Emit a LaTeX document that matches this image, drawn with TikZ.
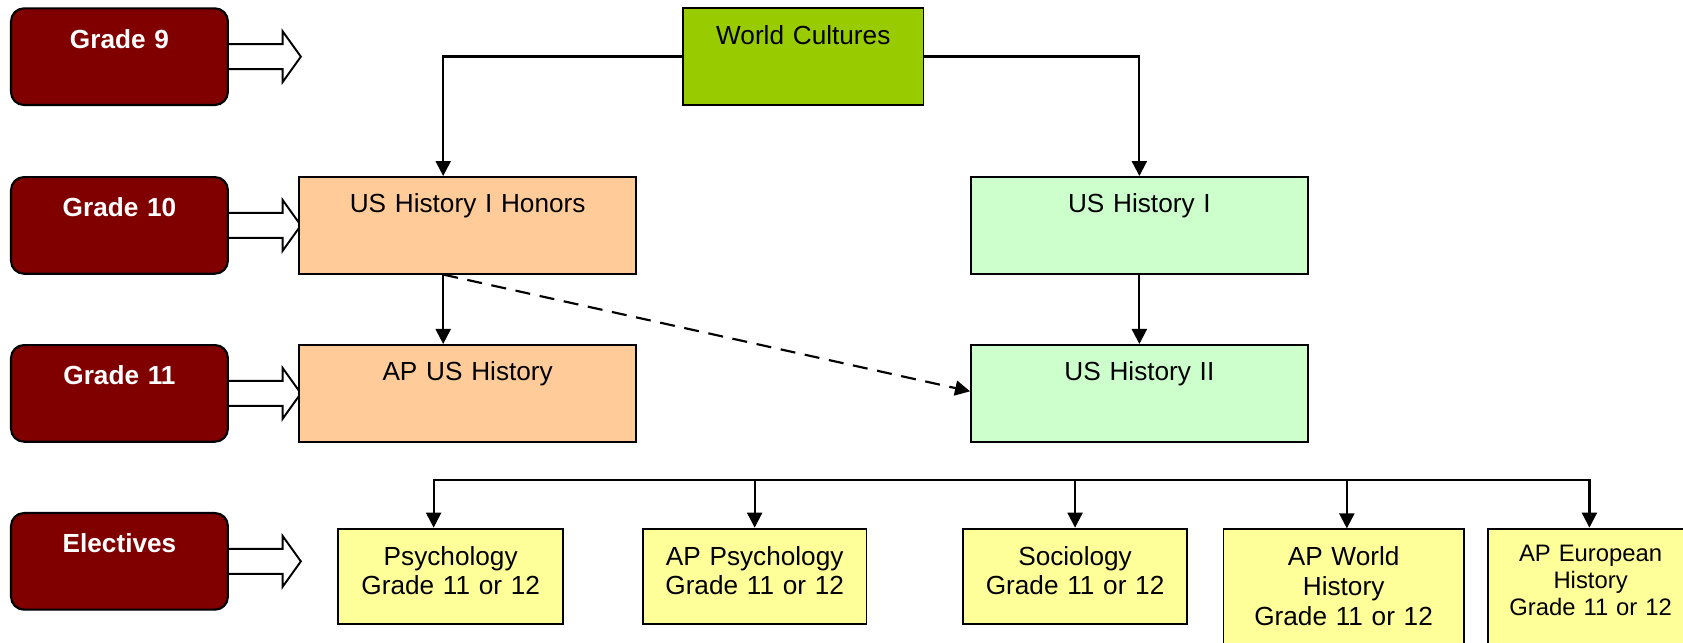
\documentclass[tikz,border=0pt]{standalone}
\usepackage{fontspec}
\setmainfont{Liberation Sans}
\usetikzlibrary{arrows.meta,calc,backgrounds}
\definecolor{gradered}{HTML}{800000}
\definecolor{wcgreen}{HTML}{99CC00}
\definecolor{honor}{HTML}{FFCC99}
\definecolor{usgreen}{HTML}{CCFFCC}
\definecolor{elect}{HTML}{FFFF99}
\begin{document}
\begin{tikzpicture}[x=0.5pt,y=-0.5pt,
  gradebox/.style={draw=black, line width=1pt, fill=gradered, rounded corners=6pt,
    inner sep=0pt, anchor=north west, text width=101pt, align=center, text=white,
    font=\fontsize{12.2pt}{14pt}\selectfont\bfseries, text height=18.5pt, text depth=26.5pt},
  course/.style={draw=black, line width=0.9pt, inner sep=0pt, anchor=north west,
    align=center, font=\fontsize{12.2pt}{13.2pt}\selectfont},
  toprow/.style={course, text height=16.7pt, text depth=28.3pt},
  hollow/.style={draw=black, line width=0.9pt, fill=white, line join=miter},
  conn/.style={draw=black, line width=1pt},
  tip/.tip={Triangle[length=7pt,width=7pt]},
  arr/.style={conn, -tip},
]
\useasboundingbox (0,0) rectangle (1568,599);
\clip (0,0) rectangle (1568,599);

% grade labels
\node[gradebox] (g9)  at (9.3,6.8)   {Grade 9};
\node[gradebox] (g10) at (9.3,164)   {Grade 10};
\node[gradebox] (g11) at (9.3,320.5) {Grade 11};
\node[gradebox] (gel) at (9.3,477)   {Electives};

% hollow block arrows
\begin{scope}[on background layer]
\foreach \g in {g9,g10,g11,gel}{
  \draw[hollow] (\g.east) ++(0,-11.65) -- ++(50,0) -- ++(0,-12.05) -- ++(17,23.7)
    -- ++(-17,23.7) -- ++(0,-12.05) -- ++(-50,0);
}
\end{scope}

% course boxes
\node[toprow, fill=wcgreen, text width=112pt]  (wc)   at (635.5,6.8)  {World Cultures};
\node[toprow, fill=honor,   text width=156.8pt] (hon)  at (278,164)    {US History I Honors};
\node[toprow, fill=usgreen, text width=156.8pt] (us1)  at (903.8,164)  {US History I};
\node[toprow, fill=honor,   text width=156.8pt] (apus) at (278,320.5)  {AP US History};
\node[toprow, fill=usgreen, text width=156.8pt] (us2)  at (903.8,320.5) {US History II};

% electives
\node[course, fill=elect, text width=105pt, text height=17.4pt, text depth=27.2pt]
  (psy) at (314,491.6) {Psychology\\Grade 11 or 12};
\node[course, fill=elect, text width=104.2pt, text height=17.4pt, text depth=27.2pt]
  (apsy) at (598,491.6) {AP Psychology\\Grade 11 or 12};
\node[course, fill=elect, text width=104.4pt, text height=17.4pt, text depth=27.2pt]
  (soc) at (896.3,491.6) {Sociology\\Grade 11 or 12};
\node[course, fill=elect, text width=111.9pt, text height=16.6pt, text depth=48.4pt,
  font=\fontsize{12.2pt}{14pt}\selectfont]
  (apw) at (1139,492.3) {AP World\\History\\Grade 11 or 12};
\node[course, fill=elect, text width=96pt, text height=15.4pt, text depth=50pt,
  font=\fontsize{11.1pt}{12.6pt}\selectfont]
  (ape) at (1385,491.6) {AP European\\History\\Grade 11 or 12};

% connectors
\draw[arr] (wc.west) -| ([xshift=-11.4pt]hon.north);
\draw[arr] (wc.east) -| (us1.north);
\draw[arr] ([xshift=-11.4pt]hon.south) -- ([xshift=-11.4pt]apus.north);
\draw[arr] (us1.south) -- (us2.north);
\draw[conn, dash pattern=on 7pt off 4.5pt, -tip] ([xshift=-11.4pt]hon.south) -- ([yshift=0.9pt]us2.west);

% electives bus
\coordinate (busL) at (404,447);
\coordinate (busR) at (1480.8,447);
\coordinate (apwtop) at ([xshift=1.5pt]apw.north);
\draw[conn, tip-tip] (busL |- psy.north) -- (busL) -- (busR) -- (busR |- ape.north);
\draw[arr] (apsy.north |- busL) -- (apsy.north);
\draw[arr] (soc.north |- busL) -- (soc.north);
\draw[arr] (apwtop |- busL) -- (apwtop);
\end{tikzpicture}
\end{document}
